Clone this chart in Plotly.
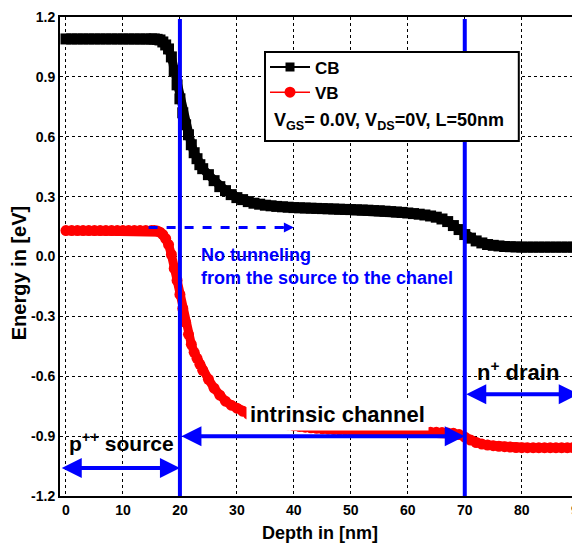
import numpy as np
import plotly.graph_objects as go

# ---------------- data ----------------
depth_nm = ([float(v) for v in range(0, 16)]
            + [15.5, 16, 16.5, 17, 17.5, 18, 18.5, 19, 19.5, 20, 20.5, 21, 21.5, 22, 22.5, 23, 23.5, 24]
            + [float(v) for v in range(25, 91)])

cb_ev = ([1.09] * 16
         + [1.09, 1.088, 1.085, 1.075, 1.06, 1.04, 1.0, 0.93, 0.86, 0.79, 0.72, 0.66, 0.61, 0.56, 0.52, 0.49, 0.46, 0.44]
         + [0.41, 0.38, 0.35, 0.33, 0.31, 0.295, 0.285, 0.275, 0.267, 0.262,      # 25-34
            0.257, 0.254, 0.251, 0.249, 0.247, 0.245, 0.244, 0.243, 0.242, 0.241,  # 35-44
            0.24, 0.239, 0.238, 0.237, 0.236, 0.235, 0.234, 0.233, 0.232, 0.23,    # 45-54
            0.229, 0.227, 0.225, 0.223, 0.221, 0.218, 0.215, 0.212, 0.208, 0.203,  # 55-64
            0.197, 0.188, 0.175, 0.155, 0.135, 0.11, 0.092, 0.078, 0.068, 0.06,    # 65-74
            0.056, 0.053, 0.05, 0.049, 0.048,                                      # 75-79
            0.047, 0.047, 0.047, 0.047, 0.047, 0.047, 0.047, 0.047, 0.047, 0.047, 0.047])  # 80-90

vb_ev = ([0.13] * 16
         + [0.13, 0.128, 0.122, 0.11, 0.09, 0.06, 0.01, -0.06, -0.12, -0.19, -0.26, -0.33, -0.39, -0.44, -0.48, -0.51, -0.54, -0.57]
         + [-0.615, -0.66, -0.695, -0.725, -0.745, -0.76, -0.775, -0.79, -0.80, -0.81,       # 25-34
            -0.818, -0.825, -0.832, -0.838, -0.843, -0.848, -0.852, -0.855, -0.858, -0.861,  # 35-44
            -0.863, -0.865, -0.867, -0.868, -0.869, -0.87, -0.871, -0.871, -0.872, -0.872,   # 45-54
            -0.873, -0.874, -0.874, -0.875, -0.875, -0.876, -0.877, -0.878, -0.879, -0.88,   # 55-64
            -0.881, -0.882, -0.884, -0.886, -0.892, -0.905, -0.92, -0.932, -0.94, -0.945,    # 65-74
            -0.948, -0.951, -0.953, -0.955, -0.957,                                          # 75-79
            -0.958, -0.958, -0.958, -0.958, -0.958, -0.958, -0.958, -0.958, -0.958, -0.958, -0.958])  # 80-90

x_ticks = [0, 10, 20, 30, 40, 50, 60, 70, 80, 90]
y_ticks = [-1.2, -0.9, -0.6, -0.3, 0.0, 0.3, 0.6, 0.9, 1.2]
y_tick_labels = ["-1.2", "-0.9", "-0.6", "-0.3", "0.0", "0.3", "0.6", "0.9", "1.2"]

junctions_nm = [20, 70]
series_names = ["CB", "VB"]
legend_note = "V<sub>GS</sub>= 0.0V, V<sub>DS</sub>=0V, L=50nm"

FONT = "Liberation Sans, Arial, sans-serif"
BLUE = "#0000FF"
RED = "#FF0000"

fig = go.Figure()
# thick bands (data)
fig.add_trace(go.Scatter(x=depth_nm, y=cb_ev, name=series_names[0], mode="lines+markers",
                         line=dict(color="black", width=9), showlegend=False,
                         marker=dict(symbol="square", size=11, color="black")))
fig.add_trace(go.Scatter(x=depth_nm, y=vb_ev, name=series_names[1], mode="lines+markers",
                         line=dict(color=RED, width=9), showlegend=False,
                         marker=dict(symbol="circle", size=11, color=RED)))
# legend entries (thin line + marker, as in the reference legend)
fig.add_trace(go.Scatter(x=[None], y=[None], name="<b>" + series_names[0] + "</b>", mode="lines+markers",
                         line=dict(color="black", width=2),
                         marker=dict(symbol="square", size=9, color="black")))
fig.add_trace(go.Scatter(x=[None], y=[None], name="<b>" + series_names[1] + "</b>", mode="lines+markers",
                         line=dict(color=RED, width=1.5),
                         marker=dict(symbol="circle", size=11, color=RED)))

# vertical junction lines
for xj in junctions_nm:
    fig.add_shape(type="line", xref="x", yref="y", x0=xj, x1=xj, y0=-1.2, y1=1.19,
                  line=dict(color=BLUE, width=4), layer="above")

# legend box (white) - drawn above the junction line
fig.add_shape(type="rect", xref="paper", yref="paper",
              x0=0.395, x1=0.884, y0=0.741, y1=0.927,
              line=dict(color="black", width=2), fillcolor="white", layer="above")

# dashed "no tunneling" arrow
fig.add_shape(type="line", xref="x", yref="y", x0=14.5, x1=38.5, y0=0.145, y1=0.145,
              line=dict(color=BLUE, width=3, dash="dash"), layer="above")
fig.add_annotation(x=40, y=0.145, ax=37.5, ay=0.145, axref="x", ayref="y", xref="x", yref="y",
                   text="", showarrow=True, arrowhead=2, arrowsize=1, arrowwidth=2, arrowcolor=BLUE)

def double_arrow(x0, x1, y):
    fig.add_annotation(x=x1, y=y, ax=x0, ay=y, axref="x", ayref="y", xref="x", yref="y",
                       text="", showarrow=True, arrowhead=2, startarrowhead=2,
                       arrowside="end+start", arrowsize=1, startarrowsize=1,
                       arrowwidth=4, arrowcolor=BLUE)

double_arrow(-1.0, 20, -1.06)
double_arrow(20, 70, -0.9)
double_arrow(70, 90, -0.69)

# text labels
fig.add_annotation(x=23.3, y=-0.05, xref="x", yref="y", xanchor="left", yanchor="middle",
                   text="<b>No tunneling<br>from the source to the chanel</b>", align="left",
                   showarrow=False, font=dict(family=FONT, size=18, color=BLUE))
fig.add_annotation(x=47.7, y=-0.79, xref="x", yref="y", xanchor="center", yanchor="middle",
                   text="<b>intrinsic channel</b>", showarrow=False, bgcolor="white", borderpad=3,
                   font=dict(family=FONT, size=22, color="black"))
fig.add_annotation(x=0.1, y=-0.93, xref="x", yref="y", xanchor="left", yanchor="middle",
                   text="<b>p<sup>++</sup> source</b>", showarrow=False,
                   font=dict(family=FONT, size=21, color="black"))
fig.add_annotation(x=79.3, y=-0.575, xref="x", yref="y", xanchor="center", yanchor="middle",
                   text="<b>n<sup>+</sup> drain</b>", showarrow=False,
                   font=dict(family=FONT, size=22, color="black"))
fig.add_annotation(x=0.4085, y=0.781, xref="paper", yref="paper", xanchor="left", yanchor="middle",
                   text="<b>" + legend_note + "</b>", showarrow=False,
                   font=dict(family=FONT, size=18, color="black"))

# axis titles
fig.add_annotation(x=0.5, y=-0.078, xref="paper", yref="paper", xanchor="center", yanchor="middle",
                   text="<b>Depth in [nm]</b>", showarrow=False,
                   font=dict(family=FONT, size=18, color="black"))
fig.add_annotation(x=-0.079, y=0.465, xref="paper", yref="paper", xanchor="center", yanchor="middle",
                   text="<b>Energy in [eV]</b>", showarrow=False, textangle=-90,
                   font=dict(family=FONT, size=20, color="black"))

axis_common = dict(showline=True, linecolor="black", linewidth=2, mirror=True,
                   showgrid=True, gridcolor="black", gridwidth=1, griddash="dot",
                   zeroline=False, ticks="", automargin=False, ticklabeloverflow="allow",
                   tickfont=dict(family=FONT, size=14, color="black"))

fig.update_xaxes(range=[-1.05, 90.05], tickvals=x_ticks, ticktext=[f"<b>{v}</b>" for v in x_ticks],
                 **axis_common)
fig.update_yaxes(range=[-1.2, 1.2], tickvals=y_ticks, ticktext=[f"<b>{t}</b>" for t in y_tick_labels],
                 **axis_common)

# the page body adds an 8 px offset, so the figure is 8 px smaller and margins compensate
fig.update_layout(
    width=572, height=537,
    margin=dict(l=52, r=1, t=9, b=49),
    paper_bgcolor="white", plot_bgcolor="white",
    font=dict(family=FONT, color="black"),
    showlegend=True,
    legend=dict(x=0.395, y=0.932, xanchor="left", yanchor="top",
                bgcolor="rgba(0,0,0,0)", borderwidth=0,
                font=dict(family=FONT, size=17, color="black"),
                itemwidth=40, tracegroupgap=0),
)

fig.write_html("out.html")
